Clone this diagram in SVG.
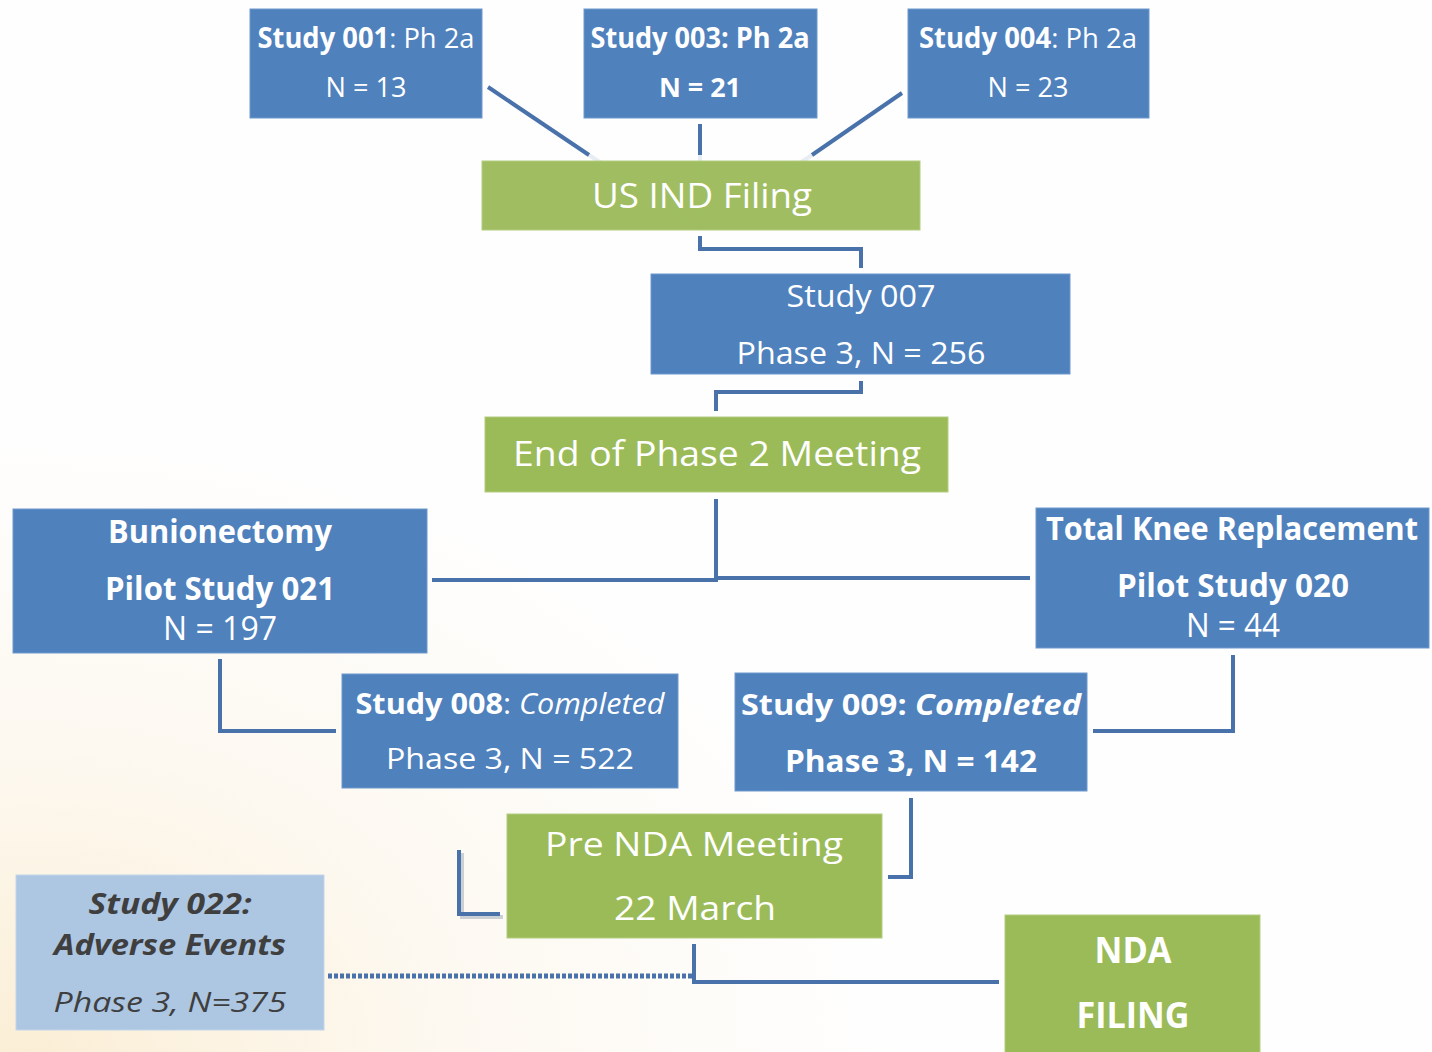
<svg xmlns="http://www.w3.org/2000/svg" width="1432" height="1052" viewBox="0 0 1432 1052">
<defs>
<radialGradient id="bgwarm" cx="0.02" cy="1" r="0.6">
<stop offset="0" stop-color="#fbeed6"/>
<stop offset="0.5" stop-color="#fdf9f1"/>
<stop offset="1" stop-color="#fefefe"/>
</radialGradient>
<style>
.blue{fill:#4f81bd;stroke:#6f98cc;stroke-width:1}
.green{fill:#9bbb59;stroke:#b2cc7e;stroke-width:1}
.light{fill:#adc6e2;stroke:#c3d5ea;stroke-width:1}
text{font-family:"Open Sans","Noto Sans","Liberation Sans",sans-serif;fill:#ffffff;text-anchor:middle}
.b{font-weight:bold}
.i{font-style:italic}
.dark{fill:#3f3f3f}
.conn{fill:none;stroke:#4a72aa;stroke-width:4;stroke-linejoin:miter;stroke-linecap:butt}
.faint{fill:none;stroke:#4a72aa;stroke-width:4;opacity:0.12}
.dot{fill:none;stroke:#4a72aa;stroke-width:5;stroke-dasharray:4 2}
</style>
</defs>
<rect x="0" y="0" width="1432" height="1052" fill="url(#bgwarm)"/>

<g id="connectors">
<line class="conn" x1="488" y1="87" x2="589" y2="155"/>
<line class="conn" x1="700" y1="124" x2="700" y2="155"/>
<line class="conn" x1="902" y1="93" x2="812" y2="155"/>
<line class="faint" x1="589" y1="155" x2="700" y2="229"/>
<line class="faint" x1="700" y1="155" x2="700" y2="229"/>
<line class="faint" x1="812" y1="155" x2="700" y2="229"/>
<polyline class="conn" points="700,236 700,249 861,249 861,268"/>
<polyline class="conn" points="861,381 861,392 716,392 716,411"/>
<polyline class="conn" points="716,499 716,580 432,580"/>
<line class="conn" x1="716" y1="578" x2="1030" y2="578"/>
<polyline class="conn" points="220,659 220,731 336,731"/>
<polyline class="conn" points="1233,655 1233,731 1093,731"/>
<polyline class="conn" points="911,798 911,877 888,877"/>
<polyline points="462,853 462,917 503,917" fill="none" stroke="#9aa6b5" stroke-width="4" opacity="0.5"/>
<polyline class="conn" points="459,850 459,914 500,914"/>
<polyline class="conn" points="694,944 694,982 999,982"/>
<line class="dot" x1="328" y1="976" x2="692" y2="976"/>
</g>

<g id="study001">
<rect class="blue" x="250" y="9" width="232" height="109"/>
<text x="366" y="48" font-size="28" textLength="217" lengthAdjust="spacingAndGlyphs"><tspan class="b">Study 001</tspan>: Ph 2a</text>
<text x="366" y="97" font-size="27" textLength="81" lengthAdjust="spacingAndGlyphs">N = 13</text>
</g>
<g id="study003">
<rect class="blue" x="584" y="9" width="233" height="109"/>
<text class="b" x="700" y="48" font-size="28" textLength="219" lengthAdjust="spacingAndGlyphs">Study 003: Ph 2a</text>
<text class="b" x="700" y="97" font-size="27" textLength="82" lengthAdjust="spacingAndGlyphs">N = 21</text>
</g>
<g id="study004">
<rect class="blue" x="908" y="9" width="241" height="109"/>
<text x="1028" y="48" font-size="28" textLength="218" lengthAdjust="spacingAndGlyphs"><tspan class="b">Study 004</tspan>: Ph 2a</text>
<text x="1028" y="97" font-size="27" textLength="81" lengthAdjust="spacingAndGlyphs">N = 23</text>
</g>
<g id="usind">
<rect class="green" x="482" y="161" width="438" height="69" fill-opacity="0.95"/>
<text x="702" y="208" font-size="34" textLength="220" lengthAdjust="spacingAndGlyphs">US IND Filing</text>
</g>
<g id="study007">
<rect class="blue" x="651" y="274" width="419" height="100"/>
<text x="861" y="307" font-size="31" textLength="149" lengthAdjust="spacingAndGlyphs">Study 007</text>
<text x="861" y="364" font-size="31" textLength="249" lengthAdjust="spacingAndGlyphs">Phase 3, N = 256</text>
</g>
<g id="eop2">
<rect class="green" x="485" y="417" width="463" height="75"/>
<text x="717" y="466" font-size="34" textLength="408" lengthAdjust="spacingAndGlyphs">End of Phase 2 Meeting</text>
</g>
<g id="bunion">
<rect class="blue" x="13" y="509" width="414" height="144"/>
<text class="b" x="220" y="543" font-size="32" textLength="224" lengthAdjust="spacingAndGlyphs">Bunionectomy</text>
<text class="b" x="220" y="600" font-size="32" textLength="230" lengthAdjust="spacingAndGlyphs">Pilot Study 021</text>
<text x="220" y="640" font-size="32" textLength="114" lengthAdjust="spacingAndGlyphs">N = 197</text>
</g>
<g id="tkr">
<rect class="blue" x="1036" y="508" width="393" height="140"/>
<text class="b" x="1232" y="540" font-size="32" textLength="372" lengthAdjust="spacingAndGlyphs">Total Knee Replacement</text>
<text class="b" x="1233" y="597" font-size="32" textLength="232" lengthAdjust="spacingAndGlyphs">Pilot Study 020</text>
<text x="1233" y="637" font-size="32" textLength="94" lengthAdjust="spacingAndGlyphs">N = 44</text>
</g>
<g id="study008">
<rect class="blue" x="342" y="674" width="336" height="114"/>
<text x="510" y="714" font-size="29" textLength="309" lengthAdjust="spacingAndGlyphs"><tspan class="b">Study 008</tspan>: <tspan class="i">Completed</tspan></text>
<text x="510" y="769" font-size="30" textLength="248" lengthAdjust="spacingAndGlyphs">Phase 3, N = 522</text>
</g>
<g id="study009">
<rect class="blue" x="735" y="673" width="352" height="118"/>
<text class="b" x="911" y="715" font-size="29" textLength="340" lengthAdjust="spacingAndGlyphs">Study 009: <tspan class="i">Completed</tspan></text>
<text class="b" x="911" y="772" font-size="30" textLength="252" lengthAdjust="spacingAndGlyphs">Phase 3, N = 142</text>
</g>
<g id="prenda">
<rect class="green" x="507" y="814" width="375" height="124"/>
<text x="694" y="856" font-size="32" textLength="298" lengthAdjust="spacingAndGlyphs">Pre NDA Meeting</text>
<text x="695" y="920" font-size="32" textLength="162" lengthAdjust="spacingAndGlyphs">22 March</text>
</g>
<g id="study022">
<rect class="light" x="16" y="875" width="308" height="155"/>
<text class="b i dark" x="170" y="914" font-size="28" textLength="163" lengthAdjust="spacingAndGlyphs">Study 022:</text>
<text class="b i dark" x="170" y="955" font-size="28" textLength="232" lengthAdjust="spacingAndGlyphs">Adverse Events</text>
<text class="i dark" x="170" y="1012" font-size="28" textLength="233" lengthAdjust="spacingAndGlyphs">Phase 3, N=375</text>
</g>
<g id="ndafiling">
<rect class="green" x="1005" y="915" width="255" height="140"/>
<text class="b" x="1133" y="963" font-size="35" textLength="77" lengthAdjust="spacingAndGlyphs">NDA</text>
<text class="b" x="1133" y="1028" font-size="35" textLength="113" lengthAdjust="spacingAndGlyphs">FILING</text>
</g>
</svg>
